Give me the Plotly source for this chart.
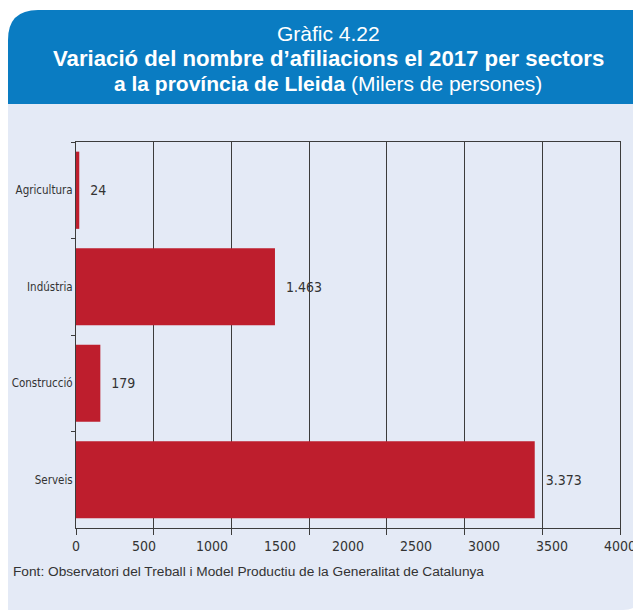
import plotly.graph_objects as go

# ---- data ----
sectors = ["Agricultura", "Indústria", "Construcció", "Serveis"]
values = [24, 1463, 179, 3373]
value_labels = ["24", "1.463", "179", "3.373"]
x_ticks = [0, 500, 1000, 1500, 2000, 2500, 3000, 3500, 4000]
x_ticktext = ["0", "500", "1000", "1500", "2000", "2500", "3000", "3500", "4000"]

# ---- geometry (page pixels; the page body has an 8px margin) ----
OFF = 8
W, H = 641 - OFF, 610 - OFF
L, R, T, B = 76 - OFF, 620 - OFF, 142 - OFF, 528 - OFF
PW, PH = R - L, B - T


def px(x):  # page x -> paper
    return (x - OFF - L) / PW


def py(y):  # page y -> paper
    return (B - (y - OFF)) / PH


BLUE = "#0a7cc2"
LAV = "#e4eaf6"
RED = "#be1e2d"
TXT = "#333333"
LINE = "#3c3c3c"
NARROW = "DejaVu Sans Condensed, Liberation Sans Narrow, Arial Narrow, sans-serif"
SANS = "Liberation Sans, Arial, Helvetica, sans-serif"

fig = go.Figure()
fig.add_trace(go.Bar(
    y=sectors, x=values, orientation="h",
    marker=dict(color=RED, line=dict(width=0)),
    text=value_labels, texttemplate="\u00a0\u00a0%{text}",
    textposition="outside", cliponaxis=False,
    textfont=dict(family=NARROW, size=14, color=TXT),
    hoverinfo="skip", showlegend=False,
))
# invisible helper trace on the grid axis
fig.add_trace(go.Scatter(
    y=sectors, x=values, xaxis="x2", mode="markers",
    marker=dict(opacity=0), hoverinfo="skip", showlegend=False,
))

r1 = 30
r2 = 18
x0 = 8  # left edge of the panel (page px), clipped to the figure
header = (f"M {px(x0)},{py(104)} L {px(x0)},{py(10 + r1)} "
          f"Q {px(x0)},{py(10)} {px(x0 + r1)},{py(10)} "
          f"L {px(641)},{py(10)} L {px(641)},{py(104)} Z")
body = (f"M {px(x0)},{py(104)} L {px(641)},{py(104)} L {px(641)},{py(610 - r2)} "
        f"Q {px(641)},{py(610)} {px(641 - r2)},{py(610)} "
        f"L {px(x0)},{py(610)} Z")

shapes = [
    dict(type="path", path=body, xref="paper", yref="paper",
         fillcolor=LAV, line=dict(width=0), layer="below"),
    dict(type="path", path=header, xref="paper", yref="paper",
         fillcolor=BLUE, line=dict(width=0), layer="below"),
]

cx = px(328)
annotations = [
    dict(text="Gràfic 4.22", x=cx, y=py(33), xref="paper", yref="paper",
         xanchor="center", yanchor="middle", showarrow=False,
         font=dict(family=SANS, size=21, color="white")),
    dict(text="<b>Variació del nombre d’afiliacions el 2017 per sectors</b>",
         x=cx, y=py(59), xref="paper", yref="paper",
         xanchor="center", yanchor="middle", showarrow=False,
         font=dict(family=SANS, size=22.2, color="white")),
    dict(text="<b>a la província de Lleida</b> (Milers de persones)",
         x=cx, y=py(84), xref="paper", yref="paper",
         xanchor="center", yanchor="middle", showarrow=False,
         font=dict(family=SANS, size=21, color="white")),
    dict(text="Font: Observatori del Treball i Model Productiu de la Generalitat de Catalunya",
         x=px(11), y=py(571), xref="paper", yref="paper",
         xanchor="left", yanchor="middle", showarrow=False,
         font=dict(family=SANS, size=13.7, color=TXT)),
]

fig.update_layout(
    width=W, height=H, autosize=False,
    margin=dict(l=L, r=W - R, t=T, b=H - B, pad=0),
    paper_bgcolor="white", plot_bgcolor="rgba(0,0,0,0)",
    bargap=0.2, shapes=shapes, annotations=annotations,
    xaxis=dict(
        range=[0, 4000], tickmode="array", tickvals=x_ticks, ticktext=x_ticktext,
        showgrid=False, zeroline=False, showline=True, mirror=True,
        linecolor=LINE, linewidth=1, automargin=False,
        ticks="outside", ticklen=5, tickcolor="rgba(0,0,0,0)",
        tickfont=dict(family=NARROW, size=14, color=TXT),
        fixedrange=True,
    ),
    xaxis2=dict(
        overlaying="x", anchor="y", side="bottom", range=[0, 4000],
        tickmode="array", tickvals=[i * 4000 / 7 for i in range(8)],
        showticklabels=False, showgrid=True, gridcolor=LINE, gridwidth=1,
        zeroline=False, showline=False, automargin=False,
        ticks="outside", ticklen=6, tickcolor=LINE, tickwidth=1,
        fixedrange=True,
    ),
    yaxis=dict(
        type="category", categoryorder="array", categoryarray=sectors,
        autorange="reversed", showgrid=False, zeroline=False,
        showline=True, mirror=True, linecolor=LINE, linewidth=1,
        ticks="outside", tickson="boundaries", ticklen=4, tickcolor=LINE,
        tickfont=dict(family=NARROW, size=11.5, color=TXT), automargin=False,
        fixedrange=True,
    ),
)

fig.write_html("out.html")
